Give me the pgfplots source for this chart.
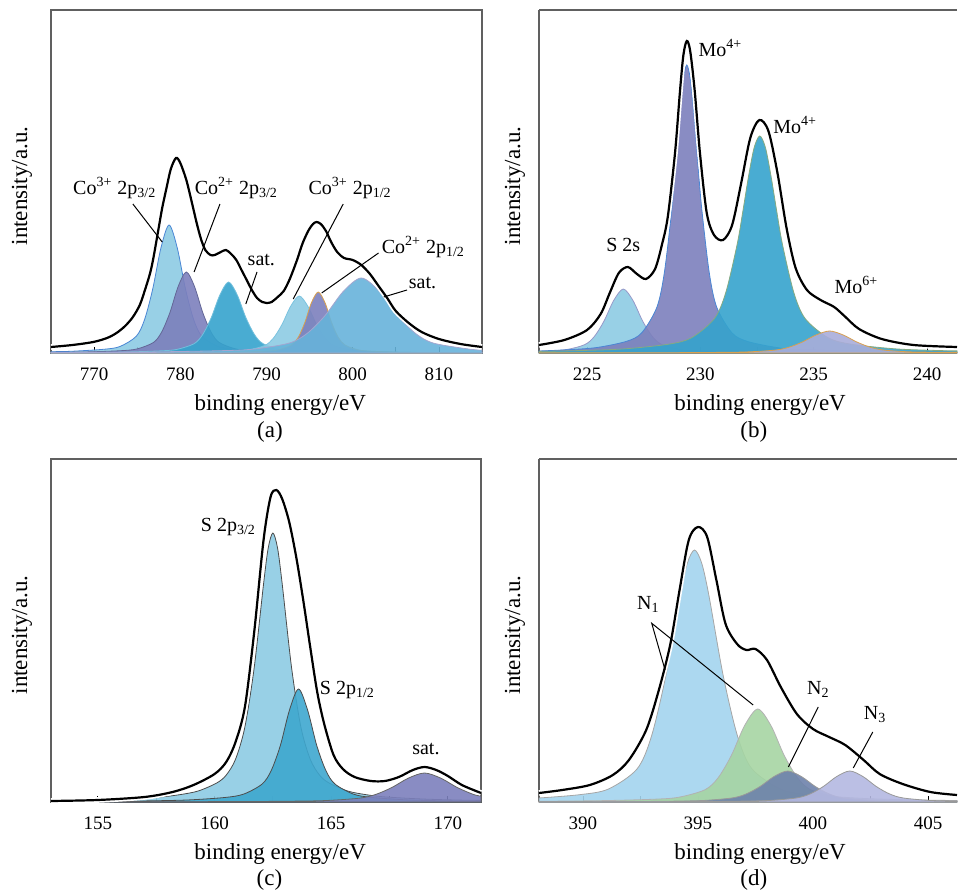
\documentclass[border=0pt]{standalone}
\usepackage{fontspec}
\setmainfont{Liberation Serif}
\usepackage{pgfplots}
\pgfplotsset{compat=1.18}

\definecolor{lb}{HTML}{8DCBE3}
\definecolor{lbedge}{HTML}{4A86D4}
\definecolor{pur}{HTML}{7C80BC}
\definecolor{teal2}{HTML}{35A3CD}
\definecolor{satblue}{HTML}{67B3DA}
\definecolor{orng}{HTML}{D9A050}
\definecolor{n1blue}{HTML}{A3D4EE}
\definecolor{n1green}{HTML}{A6D5A3}
\definecolor{n2}{HTML}{6E82AB}
\definecolor{n3}{HTML}{B4B8E1}
\definecolor{frame}{HTML}{606060}

\newcommand\ticksize{\fontsize{9.5}{11}\selectfont}
\newcommand\labsize{\fontsize{11.5}{13}\selectfont}
\newcommand\annsize{\fontsize{10}{12}\selectfont}

\tikzset{lead/.style={black, line width=0.5pt}}
\pgfplotsset{
  xps/.style={
    scale only axis, height=171.5pt, ymin=0, ymax=343,
    anchor=south west, clip=false,
    ytick=\empty, xtick pos=lower, tick align=inside,
    major tick length=3pt, minor tick length=3pt,
    tick style={black, line width=0.4pt},
    axis line style={frame, line width=0.6pt},
    ticklabel style={font=\ticksize},
    xticklabel style={yshift=-4pt},
    /pgf/number format/assume math mode=true,
    /pgf/number format/1000 sep={},
  },
  comp/.style={line width=0.4pt, fill opacity=0.9, smooth, tension=0.5},
  env/.style={line width=1.1pt, black, smooth, tension=0.5},
  halo/.style={line width=2.8pt, white, smooth, tension=0.5},
}

\begin{document}
\begin{tikzpicture}
\useasboundingbox (0,0) rectangle (479pt,447pt);

% ---------------- (a) Co 2p
\begin{axis}[xps, at={(25.5pt,270.5pt)}, width=215.5pt,
  xmin=765, xmax=815, xtick={770,780,790,800,810},
  minor xtick={775,785,795,805}]
\addplot[comp, draw=lbedge, fill=lb] coordinates {
 (765,1.3) (767.3,1.7) (771.1,3.7) (773.0,6.5) (774.9,16.8) (775.85,33.3) (776.8,64)
 (777.75,105) (778.7,128) (779.65,105) (780.6,64) (781.55,33.3) (782.5,16.8)
 (784.4,6.5) (786.3,3.7) (790.1,1.7) (793.9,1.0) (815,0.3)} \closedcycle;
\addplot[comp, draw=pur!80!black, fill=pur] coordinates {
 (765,0.6) (769.3,1.1) (773.1,2.3) (775.0,4.1) (776.9,10.6) (777.85,21.1)
 (778.8,40.5) (779.75,66.4) (780.7,81) (781.65,66.4) (782.6,40.5) (783.55,21.1)
 (784.5,10.6) (786.4,4.1) (788.3,2.3) (792.1,1.1) (795.9,0.6) (799.7,0.4) (815,0.2)} \closedcycle;
\addplot[comp, draw=teal2!70!white, fill=teal2] coordinates {
 (765,0.35) (769.6,0.55) (773.6,0.96) (777.6,2.1) (779.6,3.6) (781.6,9.3) (782.6,18.5)
 (783.6,35.5) (784.6,58.2) (785.6,71) (786.6,58.2) (787.6,35.5) (788.6,18.5)
 (789.6,9.3) (791.6,3.6) (793.6,2.1) (797.6,0.96) (801.6,0.55) (815,0.3)} \closedcycle;
\addplot[comp, draw=lb!80!teal2, fill=lb] coordinates {
 (765,0.3) (777.8,0.44) (781.8,0.77) (785.8,1.65) (787.8,2.9) (789.8,7.5) (790.8,14.8)
 (791.8,28.5) (792.8,46.7) (793.8,57) (794.8,46.7) (795.8,28.5) (796.8,14.8)
 (797.8,7.5) (799.8,2.9) (801.8,1.65) (805.8,0.77) (809.8,0.44) (815,0.3)} \closedcycle;
\addplot[comp, draw=orng, fill=pur] coordinates {
 (765,0.2) (783.6,0.47) (786.7,0.82) (789.8,1.8) (791.35,3.1) (792.9,8.0) (793.7,15.9)
 (794.45,30.5) (795.2,50) (796.0,61) (796.8,50) (797.55,30.5) (798.3,15.9)
 (799.1,8.0) (800.65,3.1) (802.2,1.8) (805.3,0.82) (808.4,0.47) (815,0.3)} \closedcycle;
\addplot[comp, draw=pur!70!white, fill=satblue] coordinates {
 (765,0.5) (775.8,1.0) (784.2,2.2) (788.4,3.8) (792.6,9.8) (794.7,19.5) (796.8,37.5)
 (798.9,61.5) (801.0,75) (803.1,61.5) (805.2,37.5) (807.3,19.5) (809.4,9.8)
 (813.6,3.8) (815,3.0)} \closedcycle;
\addplot[halo] coordinates {
 (765,6) (767.5,8) (769.9,11) (771.5,15) (772.6,20) (773.6,27) (774.5,36) (775.3,48)
 (775.9,63) (776.5,80) (776.9,96) (777.45,123) (777.9,145) (778.4,165) (778.9,184)
 (779.5,195) (780.0,190) (780.7,173) (781.3,152) (781.9,130) (782.4,114) (782.9,103)
 (783.5,98) (784.0,98) (784.7,101) (785.3,103) (785.9,99) (786.5,93) (787.1,83)
 (787.7,73) (788.3,63) (788.9,55) (789.5,51) (790.0,50) (790.6,51) (791.3,56)
 (792.0,62) (792.7,74) (793.5,92) (794.2,110) (794.9,123) (795.4,129) (795.8,131)
 (796.3,129) (796.9,122) (797.5,111) (798.2,101) (799.0,95) (800.0,93) (801.0,88)
 (802.0,79) (803.0,67) (804.0,55) (805.0,42) (806.5,30) (808.0,21) (810,14)
 (812.5,9) (815,6)};
\addplot[env] coordinates {
 (765,6) (767.5,8) (769.9,11) (771.5,15) (772.6,20) (773.6,27) (774.5,36) (775.3,48)
 (775.9,63) (776.5,80) (776.9,96) (777.45,123) (777.9,145) (778.4,165) (778.9,184)
 (779.5,195) (780.0,190) (780.7,173) (781.3,152) (781.9,130) (782.4,114) (782.9,103)
 (783.5,98) (784.0,98) (784.7,101) (785.3,103) (785.9,99) (786.5,93) (787.1,83)
 (787.7,73) (788.3,63) (788.9,55) (789.5,51) (790.0,50) (790.6,51) (791.3,56)
 (792.0,62) (792.7,74) (793.5,92) (794.2,110) (794.9,123) (795.4,129) (795.8,131)
 (796.3,129) (796.9,122) (797.5,111) (798.2,101) (799.0,95) (800.0,93) (801.0,88)
 (802.0,79) (803.0,67) (804.0,55) (805.0,42) (806.5,30) (808.0,21) (810,14)
 (812.5,9) (815,6)};
\draw[lead] (axis cs:774.5,149) -- (axis cs:777.9,111);
\draw[lead] (axis cs:784.6,149) -- (axis cs:781.6,81);
\draw[lead] (axis cs:788.9,81) -- (axis cs:787.6,49);
\draw[lead] (axis cs:798.9,149) -- (axis cs:793.1,54);
\draw[lead] (axis cs:803.0,100) -- (axis cs:796.4,60);
\draw[lead] (axis cs:806.3,63) -- (axis cs:803.6,56);
\node[font=\annsize] at (axis cs:772.4,165) {Co\textsuperscript{3+} 2p\textsubscript{3/2}};
\node[font=\annsize] at (axis cs:786.5,165) {Co\textsuperscript{2+} 2p\textsubscript{3/2}};
\node[font=\annsize] at (axis cs:789.4,93) {sat.};
\node[font=\annsize] at (axis cs:799.7,165) {Co\textsuperscript{3+} 2p\textsubscript{1/2}};
\node[font=\annsize] at (axis cs:808.2,106) {Co\textsuperscript{2+} 2p\textsubscript{1/2}};
\node[font=\annsize] at (axis cs:808.1,70) {sat.};
\node[font=\labsize] at (rel axis cs:0.532,0) [yshift=-26pt] {binding energy/eV};
\node[font=\labsize] at (rel axis cs:0.508,0) [yshift=-39.5pt] {(a)};
\node[font=\labsize, rotate=90] at (rel axis cs:0,0.487) [yshift=14.5pt] {intensity/a.u.};
\end{axis}

% ---------------- (b) Mo 3d
\begin{axis}[xps, at={(269.5pt,270.5pt)}, width=209pt,
  axis y line*=left,
  xmin=222.88, xmax=241.32, xtick={225,230,235,240},
  minor xtick={227.5,232.5,237.5}]
\addplot[comp, draw=pur!80!white, fill=lb] coordinates {
 (222.88,1.6) (224.05,3.3) (224.9,8.4) (225.325,16.6) (225.75,32) (226.175,52.5)
 (226.6,64) (227.025,52.5) (227.45,32) (227.875,16.6) (228.3,8.4) (229.15,3.3)
 (230.0,1.9) (231.7,0.86) (233.4,0.5) (241.32,0.2)} \closedcycle;
\addplot[comp, draw=lbedge, fill=pur] coordinates {
 (222.88,2.0) (224.12,3.2) (225.44,5.5) (226.76,11.8) (227.42,20.4) (228.08,45.8)
 (228.41,80.4) (228.74,144) (228.905,187.5) (229.07,233.9) (229.235,272.4) (229.4,288)
 (229.565,272.4) (229.73,233.9) (229.895,187.5) (230.06,144) (230.39,80.4)
 (230.72,45.8) (231.38,20.4) (232.04,11.8) (233.36,5.5) (234.68,3.2) (241.32,1.0)} \closedcycle;
\addplot[comp, draw=n1green!80!black, fill=teal2] coordinates {
 (222.88,1.6) (224.62,2.4) (226.62,4.1) (228.62,8.9) (229.62,15.4) (230.62,34.5)
 (231.12,60.5) (231.62,108.5) (231.87,141.3) (232.12,176.2) (232.37,205.3) (232.62,217)
 (232.87,205.3) (233.12,176.2) (233.37,141.3) (233.62,108.5) (234.12,60.5)
 (234.62,34.5) (235.62,15.4) (236.62,8.9) (238.62,4.1) (240.62,2.4) (241.32,2.1)} \closedcycle;
\addplot[comp, draw=orng, fill=n3!80!pur] coordinates {
 (222.88,0.2) (228.5,0.3) (230.9,0.64) (232.1,1.1) (233.3,2.9) (233.9,5.7) (234.5,11)
 (235.1,18) (235.7,22) (236.3,18) (236.9,11) (237.5,5.7) (238.1,2.9) (239.3,1.1)
 (241.32,0.6)} \closedcycle;
\addplot[halo] coordinates {
 (222.88,8) (224,13) (225,23) (225.6,39) (226.0,60) (226.4,80) (226.8,86) (227.2,79)
 (227.6,74) (228.0,84) (228.3,108) (228.56,136) (228.88,200) (229.1,262) (229.25,298)
 (229.4,312) (229.55,302) (229.75,262) (229.98,200) (230.28,140) (230.6,118)
 (231.0,113) (231.4,128) (231.8,170) (232.2,215) (232.6,233) (233.0,222) (233.4,180)
 (233.8,125) (234.2,85) (234.7,63) (235.3,53) (235.9,46) (236.4,36) (237,24) (238,14)
 (239.4,8) (241.32,6)};
\addplot[env] coordinates {
 (222.88,8) (224,13) (225,23) (225.6,39) (226.0,60) (226.4,80) (226.8,86) (227.2,79)
 (227.6,74) (228.0,84) (228.3,108) (228.56,136) (228.88,200) (229.1,262) (229.25,298)
 (229.4,312) (229.55,302) (229.75,262) (229.98,200) (230.28,140) (230.6,118)
 (231.0,113) (231.4,128) (231.8,170) (232.2,215) (232.6,233) (233.0,222) (233.4,180)
 (233.8,125) (234.2,85) (234.7,63) (235.3,53) (235.9,46) (236.4,36) (237,24) (238,14)
 (239.4,8) (241.32,6)};
\node[font=\annsize] at (axis cs:226.6,108) {S 2s};
\node[font=\annsize, anchor=west, inner sep=0pt] at (axis cs:229.9,305) {Mo\textsuperscript{4+}};
\node[font=\annsize, anchor=west, inner sep=0pt] at (axis cs:233.2,228) {Mo\textsuperscript{4+}};
\node[font=\annsize, anchor=west, inner sep=0pt] at (axis cs:235.9,68) {Mo\textsuperscript{6+}};
\node[font=\labsize] at (rel axis cs:0.529,0) [yshift=-26pt] {binding energy/eV};
\node[font=\labsize] at (rel axis cs:0.514,0) [yshift=-39.5pt] {(b)};
\node[font=\labsize, rotate=90] at (rel axis cs:0,0.487) [yshift=12pt] {intensity/a.u.};
\end{axis}

% ---------------- (c) S 2p
\begin{axis}[xps, at={(25.5pt,46pt)}, width=215pt,
  xmin=152.99, xmax=171.42, xtick={155,160,165,170},
  minor xtick={157.5,162.5,167.5}]
\addplot[comp, draw=black!70, fill=lb] coordinates {
 (152.99,1.35) (154.5,1.9) (156.1,3.0) (157.7,5.1) (158.5,7.3) (159.3,11) (160.1,19.1)
 (160.5,26.9) (160.9,42.8) (161.3,75) (161.7,134.5) (162.1,218) (162.3,254) (162.5,269)
 (162.7,254) (162.9,218) (163.3,134.5) (163.7,75) (164.1,42.8) (164.5,26.9)
 (164.9,19.1) (165.7,11) (166.5,7.3) (167.3,5.1) (168.9,3.0) (170.5,1.9) (171.42,1.6)} \closedcycle;
\addplot[comp, draw=black!70, fill=teal2!90!lb] coordinates {
 (152.99,0.4) (155.8,0.8) (157.36,1.2) (158.92,2.1) (160.48,4.6) (161.26,8.0)
 (162.04,18) (162.43,31.5) (162.82,56.5) (163.21,91.8) (163.6,113) (163.99,91.8)
 (164.38,56.5) (164.77,31.5) (165.16,18) (165.94,8.0) (166.72,4.6) (168.28,2.1)
 (169.84,1.2) (171.42,0.9)} \closedcycle;
\addplot[comp, draw=black!60, fill=pur] coordinates {
 (152.99,0.1) (160.6,0.4) (163.4,0.84) (164.8,1.5) (166.2,3.8) (166.9,7.5) (167.6,14.5)
 (168.3,23.8) (169.0,29) (169.7,23.8) (170.4,14.5) (171.1,7.5) (171.42,6)} \closedcycle;
\addplot[halo] coordinates {
 (152.99,1) (155,2) (157,5) (158.2,10) (159.1,17) (160,28) (160.5,40) (160.9,60)
 (161.3,95) (161.7,170) (162.1,262) (162.4,305) (162.65,312) (162.9,303) (163.2,280)
 (163.5,245) (163.8,202) (164.1,155) (164.4,110) (164.7,78) (165.1,47) (165.5,33)
 (166,25) (166.7,21) (167.3,21) (167.9,25) (168.5,32) (169,35) (169.5,32) (170,26)
 (170.6,17) (171.42,9)};
\addplot[env] coordinates {
 (152.99,1) (155,2) (157,5) (158.2,10) (159.1,17) (160,28) (160.5,40) (160.9,60)
 (161.3,95) (161.7,170) (162.1,262) (162.4,305) (162.65,312) (162.9,303) (163.2,280)
 (163.5,245) (163.8,202) (164.1,155) (164.4,110) (164.7,78) (165.1,47) (165.5,33)
 (166,25) (166.7,21) (167.3,21) (167.9,25) (168.5,32) (169,35) (169.5,32) (170,26)
 (170.6,17) (171.42,9)};
\node[font=\annsize, anchor=west, inner sep=0pt] at (axis cs:159.4,275) {S 2p\textsubscript{3/2}};
\node[font=\annsize, anchor=west, inner sep=0pt] at (axis cs:164.5,112) {S 2p\textsubscript{1/2}};
\node[font=\annsize] at (axis cs:169.06,53) {sat.};
\node[font=\labsize] at (rel axis cs:0.533,0) [yshift=-26pt] {binding energy/eV};
\node[font=\labsize] at (rel axis cs:0.508,0) [yshift=-39pt] {(c)};
\node[font=\labsize, rotate=90] at (rel axis cs:0,0.487) [yshift=14.5pt] {intensity/a.u.};
\end{axis}

% ---------------- (d) N 1s
\begin{axis}[xps, at={(269.5pt,46pt)}, width=209pt,
  axis y line*=left,
  xmin=388.09, xmax=406.26, xtick={390,395,400,405},
  minor xtick={392.5,397.5,402.5}]
\addplot[comp, draw=black!35, fill=n1blue] coordinates {
 (388.09,4) (389.85,7.3) (391.1,12.9) (392.35,33) (392.975,65.5) (393.6,126)
 (394.225,206.6) (394.54,239) (394.85,252) (395.16,239) (395.475,206.6) (396.1,126)
 (396.725,65.5) (397.35,33) (398.6,12.9) (399.85,7.3) (402.35,3.4) (404.85,1.9)
 (406.26,1.5)} \closedcycle;
\addplot[comp, draw=black!30, fill=n1green] coordinates {
 (388.09,0.7) (390.7,1.3) (393.0,2.7) (394.15,4.7) (395.3,12.2) (395.875,24.2)
 (396.45,46.5) (397.025,76.3) (397.6,93) (398.175,76.3) (398.75,46.5) (399.325,24.2)
 (399.9,12.2) (401.05,4.7) (402.2,2.7) (404.5,1.3) (406.26,0.9)} \closedcycle;
\addplot[comp, draw=black!40, fill=n2] coordinates {
 (388.09,0.3) (391.7,0.4) (394.1,0.9) (395.3,1.6) (396.5,4.1) (397.1,8.1) (397.7,15.5)
 (398.3,25.4) (398.9,31) (399.5,25.4) (400.1,15.5) (400.7,8.1) (401.3,4.1) (402.5,1.6)
 (403.7,0.9) (406.26,0.5)} \closedcycle;
\addplot[comp, draw=black!40, fill=n3] coordinates {
 (388.09,0.2) (394.7,0.4) (397.0,0.9) (398.15,1.6) (399.3,4.1) (399.875,8.1)
 (400.45,15.5) (401.025,25.4) (401.6,31) (402.175,25.4) (402.75,15.5) (403.325,8.1)
 (403.9,4.1) (405.05,1.6) (406.26,1.0)} \closedcycle;
\addplot[halo] coordinates {
 (388.09,9) (389.1,12) (390.3,17) (391.3,27) (392,42) (392.75,72) (393.3,112)
 (393.8,158) (394.2,212) (394.6,262) (395,275) (395.4,265) (395.8,222) (396.2,178)
 (396.7,158) (397.1,152) (397.5,153) (398,142) (398.6,115) (399.3,88) (400,73)
 (400.7,65) (401.4,57) (402.2,42) (402.9,28) (403.9,18) (405.1,10) (406.26,7)};
\addplot[env] coordinates {
 (388.09,9) (389.1,12) (390.3,17) (391.3,27) (392,42) (392.75,72) (393.3,112)
 (393.8,158) (394.2,212) (394.6,262) (395,275) (395.4,265) (395.8,222) (396.2,178)
 (396.7,158) (397.1,152) (397.5,153) (398,142) (398.6,115) (399.3,88) (400,73)
 (400.7,65) (401.4,57) (402.2,42) (402.9,28) (403.9,18) (405.1,10) (406.26,7)};
\draw[lead] (axis cs:393.57,132) -- (axis cs:392.99,178.7) -- (axis cs:397.4,97);
\draw[lead] (axis cs:400.23,95) -- (axis cs:398.93,35);
\draw[lead] (axis cs:402.6,70) -- (axis cs:401.75,34);
\node[font=\annsize] at (axis cs:392.84,198) {N\textsubscript{1}};
\node[font=\annsize] at (axis cs:400.23,112.7) {N\textsubscript{2}};
\node[font=\annsize] at (axis cs:402.7,87) {N\textsubscript{3}};
\node[font=\labsize] at (rel axis cs:0.529,0) [yshift=-26pt] {binding energy/eV};
\node[font=\labsize] at (rel axis cs:0.514,0) [yshift=-39pt] {(d)};
\node[font=\labsize, rotate=90] at (rel axis cs:0,0.487) [yshift=12pt] {intensity/a.u.};
\end{axis}
\end{tikzpicture}
\end{document}
